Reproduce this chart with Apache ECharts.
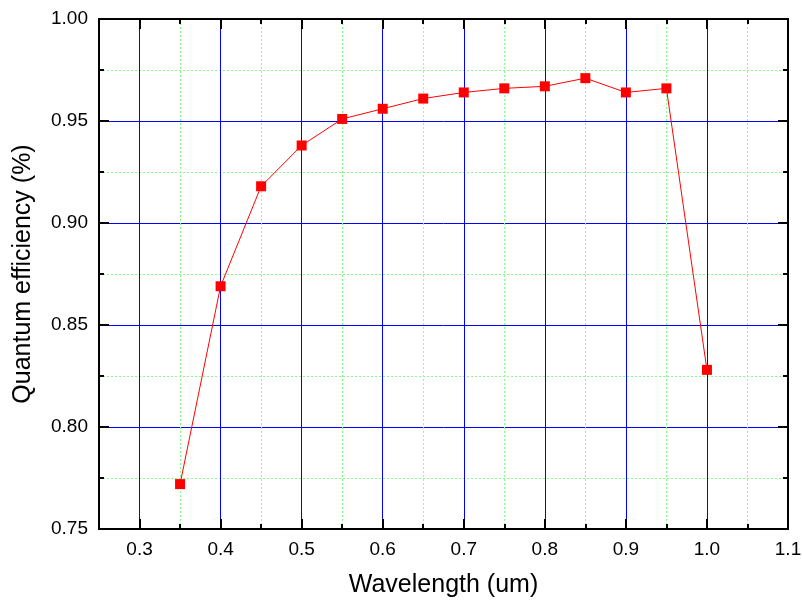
<!DOCTYPE html>
<html>
<head>
<meta charset="utf-8">
<script src="https://cdn.jsdelivr.net/npm/echarts@6/dist/echarts.min.js"></script>
<style>
    html, body { margin: 0; padding: 0; background: #fff; }
    #chart { width: 802px; height: 608px; }
</style>
</head>
<body>
<div id="chart"></div>
<script>
// wavelength (um) and measured quantum efficiency
var wavelength = [0.35, 0.4, 0.45, 0.5, 0.55, 0.6, 0.65, 0.7, 0.75, 0.8, 0.85, 0.9, 0.95, 1.0];
var efficiency = [0.772, 0.869, 0.918, 0.938, 0.951, 0.956, 0.961, 0.964, 0.966, 0.967, 0.971, 0.964, 0.966, 0.828];
var xMajorTicks = [0.3, 0.4, 0.5, 0.6, 0.7, 0.8, 0.9, 1.0, 1.1];
var xMinorTicks = [0.35, 0.45, 0.55, 0.65, 0.75, 0.85, 0.95, 1.05];

var font = "Liberation Sans, Arial, sans-serif";
var blue = "#0000ff";
var green = "#88ff88";

function xAxisOf(position, ticks, major, showLabel) {
    return {
        type: "value",
        position: position,
        min: 0.25,
        max: 1.1,
        axisLine: { show: true, onZero: false, lineStyle: { color: "#000", width: 2 } },
        axisTick: {
            show: true,
            inside: true,
            length: major ? 10 : 5,
            customValues: ticks,
            lineStyle: { color: "#000", width: 2 }
        },
        axisLabel: {
            show: showLabel,
            customValues: ticks,
            margin: 11,
            color: "#000",
            fontFamily: font,
            fontSize: 19,
            formatter: function(v) { return v.toFixed(1); }
        },
        splitLine: {
            show: position === "bottom",
            lineStyle: major
                ? { color: blue, width: 1, type: "solid" }
                : { color: green, width: 1, type: [2, 2] }
        }
    };
}

function yAxisOf(position, showLabel) {
    return {
        type: "value",
        position: position,
        min: 0.75,
        max: 1.0,
        interval: 0.05,
        name: showLabel ? "Quantum efficiency (%)" : "",
        nameLocation: "middle",
        nameGap: 63,
        nameTextStyle: { color: "#000", fontFamily: font, fontSize: 25 },
        axisLine: { show: true, onZero: false, lineStyle: { color: "#000", width: 2 } },
        axisTick: { show: true, inside: true, length: 10, lineStyle: { color: "#000", width: 2 } },
        minorTick: { show: true, splitNumber: 2, length: 5, lineStyle: { color: "#000", width: 2 } },
        axisLabel: {
            show: showLabel,
            margin: 11,
            color: "#000",
            fontFamily: font,
            fontSize: 19,
            formatter: function(v) { return v.toFixed(2); }
        },
        splitLine: { show: showLabel, lineStyle: { color: blue, width: 1 } },
        minorSplitLine: { show: showLabel, lineStyle: { color: green, width: 1, type: [2, 2] } }
    };
}

var chart = echarts.init(document.getElementById("chart"));
var xMinor = xAxisOf("bottom", xMinorTicks, false, false);
var xMajor = xAxisOf("bottom", xMajorTicks, true, true);
xMajor.name = "Wavelength (um)";
xMajor.nameLocation = "middle";
xMajor.nameGap = 44;
xMajor.nameTextStyle = { color: "#000", fontFamily: font, fontSize: 25 };

chart.setOption({
    animation: false,
    grid: {
        left: 99,
        top: 19,
        right: 14,
        bottom: 79,
        containLabel: false,
        outerBoundsMode: "none"
    },
    xAxis: [
        xMinor,
        xMajor,
        xAxisOf("top", xMinorTicks, false, false),
        xAxisOf("top", xMajorTicks, true, false)
    ],
    yAxis: [yAxisOf("left", true), yAxisOf("right", false)],
    series: [{
        type: "line",
        xAxisIndex: 1,
        yAxisIndex: 0,
        data: wavelength.map(function(w, i) { return [w, efficiency[i]]; }),
        symbol: "rect",
        symbolSize: 10,
        lineStyle: { color: "#ff0000", width: 1 },
        itemStyle: { color: "#ff0000" },
        z: 5
    }]
});
</script>
</body>
</html>
